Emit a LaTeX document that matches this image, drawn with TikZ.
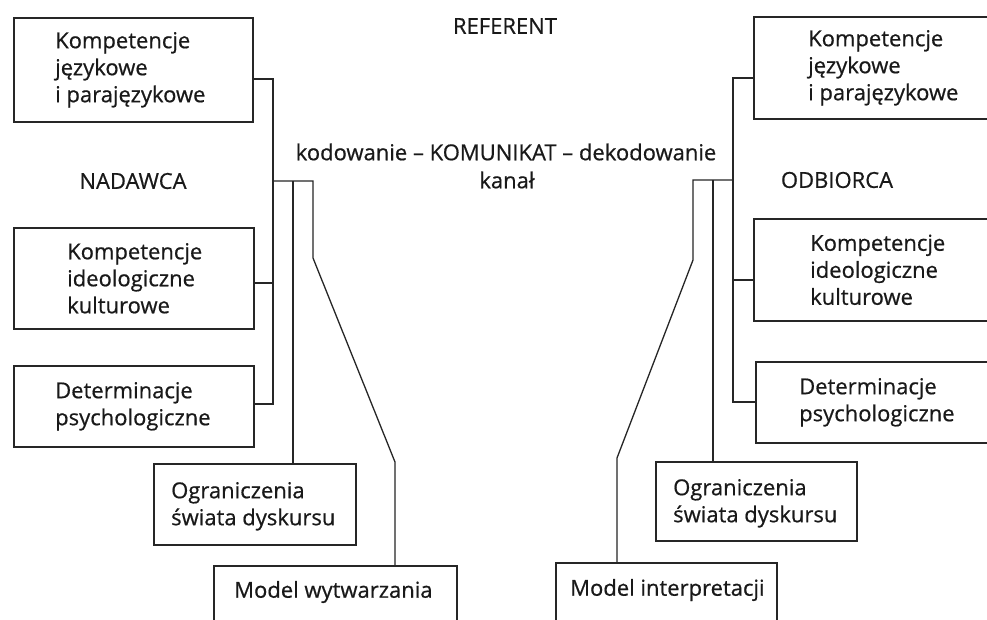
\documentclass[tikz,border=0pt]{standalone}
\usepackage{fontspec}
\setmainfont{Open Sans}[BoldFont=Open Sans, BoldFeatures={FakeBold=0.6}]
\begin{document}
\begin{tikzpicture}[x=1pt,y=-1pt,
  box/.style={draw=black!85, line width=1.6pt, rectangle, inner sep=0pt, anchor=north west},
  lbl/.style={align=left, anchor=west, inner sep=0pt, text=black!90, font=\fontsize{22}{27}\selectfont\bfseries},
  ttl/.style={inner sep=0pt, text=black!90, font=\fontsize{22}{27}\selectfont\bfseries},
  conn/.style={draw=black!85, line width=1.3pt}]
\useasboundingbox (0,0) rectangle (987,619);
\clip (0,0) rectangle (987,619);
\fill[white] (0,0) rectangle (987,619);

% titles
\node[ttl] (ref) at (505,26) {REFERENT};
\node[ttl] (kom) at (506,152) {kodowanie – KOMUNIKAT – dekodowanie};
\node[ttl] (kan) at (507,180) {kanał};
\node[ttl] (nad) at (133,181) {NADAWCA};
\node[ttl] (odb) at (837,180) {ODBIORCA};

% left boxes
\node[box, minimum width=239, minimum height=104] (l1) at (13,17) {};
\node[lbl] (t1) at ([xshift=42]l1.west) {Kompetencje\\językowe\\i parajęzykowe};
\node[box, minimum width=240, minimum height=101] (l2) at (13,227) {};
\node[lbl] (t2) at ([xshift=54]l2.west) {Kompetencje\\ideologiczne\\kulturowe};
\node[box, minimum width=240, minimum height=81] (l3) at (13,365) {};
\node[lbl] (t3) at ([xshift=42]l3.west) {Determinacje\\psychologiczne};
\node[box, minimum width=202, minimum height=81] (l4) at (153,463) {};
\node[lbl] (t4) at ([xshift=18,yshift=-2]l4.west) {Ograniczenia\\świata dyskursu};
\node[box, minimum width=243, minimum height=80] (l5) at (213,565) {};
\node[lbl] (t5) at (234,592) {Model wytwarzania};

% right boxes
\node[box, minimum width=260, minimum height=102] (r1) at (753,16) {};
\node[lbl] (u1) at ([xshift=55]r1.west) {Kompetencje\\językowe\\i parajęzykowe};
\node[box, minimum width=260, minimum height=102] (r2) at (753,218) {};
\node[lbl] (u2) at ([xshift=57]r2.west) {Kompetencje\\ideologiczne\\kulturowe};
\node[box, minimum width=260, minimum height=81] (r3) at (755,361) {};
\node[lbl] (u3) at ([xshift=44]r3.west) {Determinacje\\psychologiczne};
\node[box, minimum width=201, minimum height=79] (r4) at (655,461) {};
\node[lbl] (u4) at ([xshift=18,yshift=-2]r4.west) {Ograniczenia\\świata dyskursu};
\node[box, minimum width=221, minimum height=80] (r5) at (555,562) {};
\node[lbl] (u5) at (570,590) {Model interpretacji};

% left connectors
\coordinate (lt) at (273,79);
\coordinate (lm) at (273,283);
\coordinate (lb) at (273,404);
\coordinate (lh) at (273,181);
\coordinate (lh2) at (293,181);
\coordinate (lh3) at (313,181);
\coordinate (ld1) at (313,258);
\coordinate (ld2) at (395,462);
\draw[conn] (l1.east |- lt) -- (lt) -- (lb) -- (l3.east |- lb);
\draw[conn] (l2.east |- lm) -- (lm);
\draw[conn] (lh) -- (lh3) -- (ld1) -- (ld2) -- (l5.north -| ld2);
\draw[conn] (lh2) -- (l4.north -| lh2);

% right connectors
\coordinate (rt) at (733,78);
\coordinate (rm) at (733,280);
\coordinate (rb) at (733,402);
\coordinate (rh) at (733,180);
\coordinate (rh2) at (713,180);
\coordinate (rh3) at (693,180);
\coordinate (rd1) at (693,260);
\coordinate (rd2) at (617,458);
\draw[conn] (r1.west |- rt) -- (rt) -- (rb) -- (r3.west |- rb);
\draw[conn] (r2.west |- rm) -- (rm);
\draw[conn] (rh) -- (rh3) -- (rd1) -- (rd2) -- (r5.north -| rd2);
\draw[conn] (rh2) -- (r4.north -| rh2);
\end{tikzpicture}
\end{document}
